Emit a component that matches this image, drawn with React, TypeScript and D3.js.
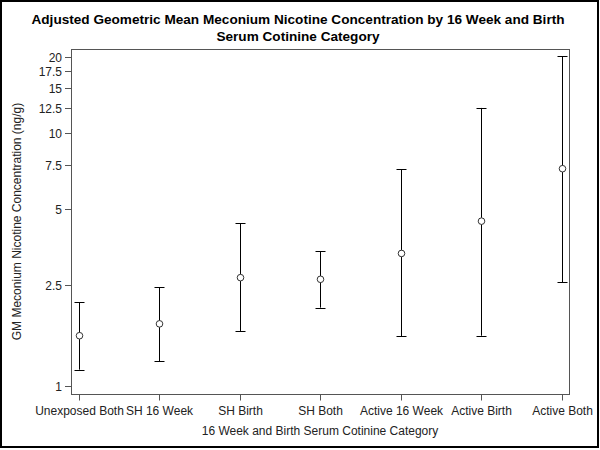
import React from "react";
import * as d3 from "d3";

const categories = ["Unexposed Both", "SH 16 Week", "SH Birth", "SH Both", "Active 16 Week", "Active Birth", "Active Both"];
const means = [1.58, 1.76, 2.68, 2.64, 3.34, 4.48, 7.22];
const lowers = [1.16, 1.25, 1.65, 2.04, 1.57, 1.58, 2.57];
const uppers = [2.14, 2.45, 4.39, 3.41, 7.2, 12.55, 20.1];
const yTicks = [1, 2.5, 5, 7.5, 10, 12.5, 15, 17.5, 20];
const titleLines = [
  "Adjusted Geometric Mean Meconium Nicotine Concentration by 16 Week and Birth",
  "Serum Cotinine Category",
];
const xTitle = "16 Week and Birth Serum Cotinine Category";
const yTitle = "GM Meconium Nicotine Concentration (ng/g)";

export default function App() {
  const W = 600, H = 450;
  const frame = { left: 71, right: 569, top: 49, bottom: 394 };
  const x = d3.scalePoint<string>().domain(categories).range([78.5, 562]).padding(0);
  const y = d3.scaleLog().domain([1, 20]).range([386, 56.7]);
  const font = "'Liberation Sans', Arial, sans-serif";
  const cap = 5;
  return (
    <div style={{ position: "fixed", left: 0, top: 0 }}>
      <svg width={W} height={H} style={{ display: "block", background: "#fff" }} fontFamily={font}>
        <rect x={1} y={1} width={597} height={446} fill="none" stroke="#000" strokeWidth={2} />
        {titleLines.map((t, i) => (
          <text key={i} x={298} y={24 + i * 17} textAnchor="middle" fontWeight="bold" fontSize={13.6} fill="#000">
            {t}
          </text>
        ))}
        <rect x={frame.left + 0.5} y={frame.top + 0.5} width={frame.right - frame.left} height={frame.bottom - frame.top} fill="none" stroke="#555" strokeWidth={1} />
        {yTicks.map((t) => {
          const yy = Math.round(y(t)) + 0.5;
          return (
            <g key={t}>
              <line x1={frame.left - 6} x2={frame.left} y1={yy} y2={yy} stroke="#555" />
              <text x={frame.left - 9} y={yy + 4} textAnchor="end" fontSize={12} fill="#222">{t}</text>
            </g>
          );
        })}
        {categories.map((c) => {
          const xx = Math.round(x(c)!) + 0.5;
          return (
            <g key={c}>
              <line x1={xx} x2={xx} y1={frame.bottom + 0.5} y2={frame.bottom + 6.5} stroke="#555" />
              <text x={xx} y={415} textAnchor="middle" fontSize={12} fill="#222">{c}</text>
            </g>
          );
        })}
        <text x={(frame.left + frame.right) / 2} y={435} textAnchor="middle" fontSize={12} fill="#222">{xTitle}</text>
        <text transform={`translate(21,${(frame.top + frame.bottom) / 2}) rotate(-90)`} textAnchor="middle" fontSize={12} fill="#222">{yTitle}</text>
        {categories.map((c, i) => {
          const xx = Math.round(x(c)!) + 0.5;
          const yl = y(lowers[i]), yu = y(uppers[i]), ym = y(means[i]);
          return (
            <g key={c} stroke="#000" strokeWidth={1} fill="none">
              <line x1={xx} x2={xx} y1={yl} y2={yu} />
              <line x1={xx - cap} x2={xx + cap} y1={Math.round(yl) + 0.5} y2={Math.round(yl) + 0.5} />
              <line x1={xx - cap} x2={xx + cap} y1={Math.round(yu) + 0.5} y2={Math.round(yu) + 0.5} />
              <circle cx={xx} cy={ym} r={3.3} fill="#fff" stroke="#333" />
            </g>
          );
        })}
      </svg>
    </div>
  );
}
